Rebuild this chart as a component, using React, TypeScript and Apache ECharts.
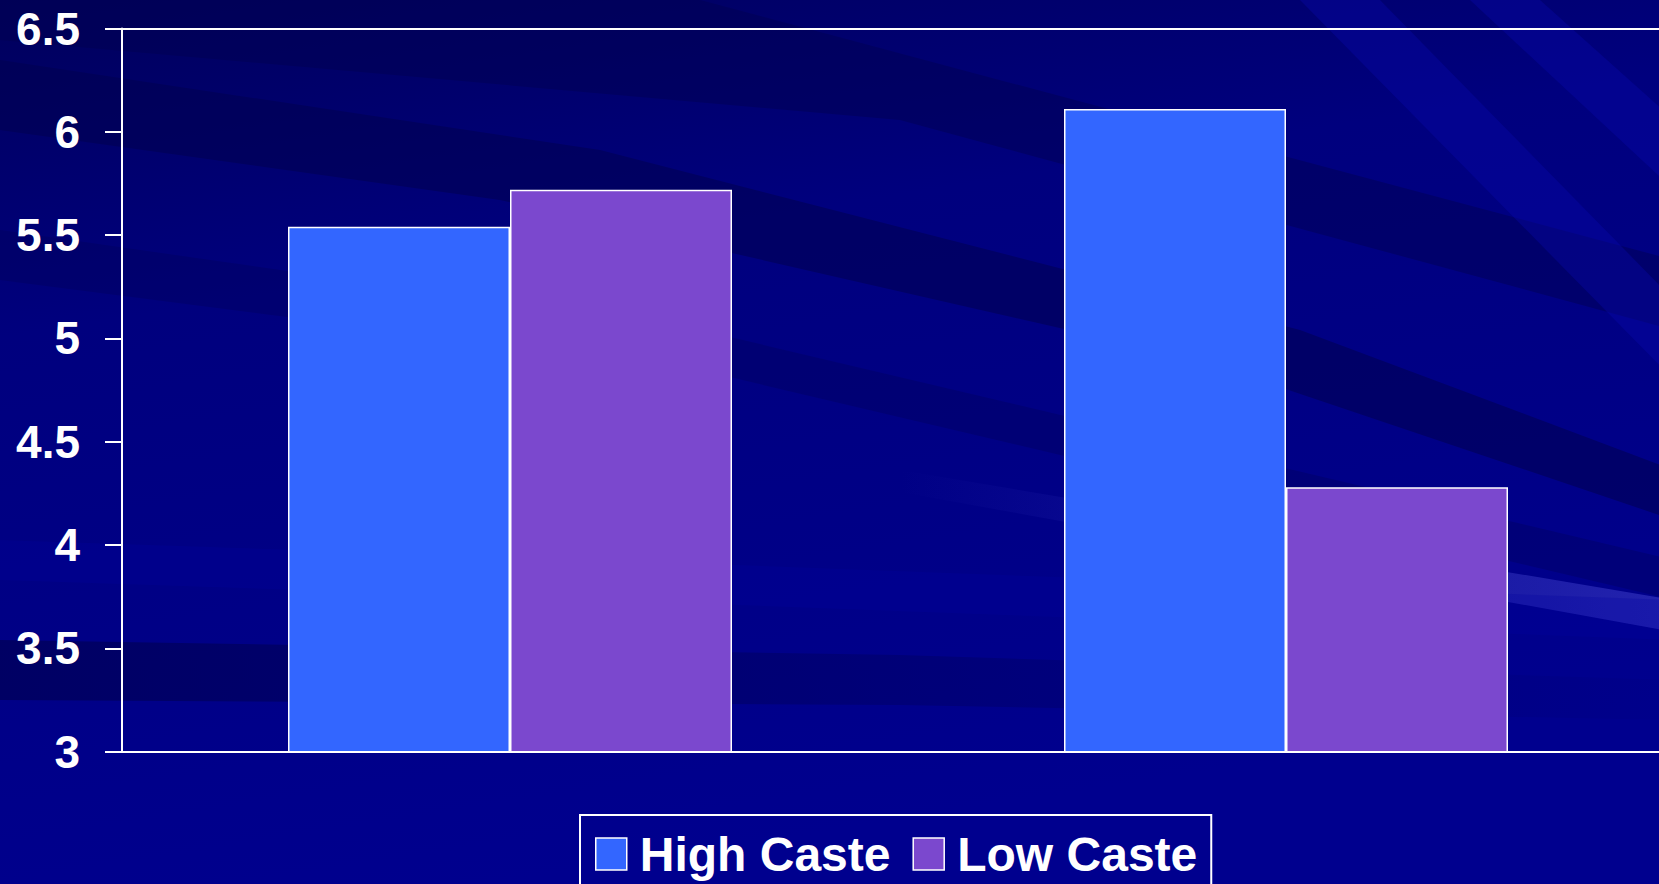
import React, { useEffect, useRef } from "react";
import * as echarts from "echarts";

// Chart data
const categories = ["Group A", "Group B"];
const seriesNames = ["High Caste", "Low Caste"];
const highCaste = [5.54, 6.11];
const lowCaste = [5.72, 4.28];
const yTicks = { min: 3, max: 6.5, interval: 0.5 };

const FONT = '"Liberation Sans", Arial, sans-serif';

// Horizontal fade used to soften the background streaks
const fade = (color: string, from: number, to: number) => ({
  type: "linear",
  x: 0,
  y: 0,
  x2: 1,
  y2: 0,
  colorStops: [
    { offset: 0, color: color.replace("ALPHA", String(from)) },
    { offset: 1, color: color.replace("ALPHA", String(to)) },
  ],
});

export default function App() {
  const ref = useRef<HTMLDivElement>(null);

  useEffect(() => {
    if (!ref.current) return;
    const chart = echarts.init(ref.current, undefined, { renderer: "svg" });

    const streak = (points: number[][], fill: any, opacity = 1) => ({
      type: "polygon",
      silent: true,
      z: -10,
      shape: { points },
      style: { fill, opacity },
    });

    chart.setOption({
      animation: false,
      backgroundColor: {
        type: "linear",
        x: 0,
        y: 0,
        x2: 0.3,
        y2: 1,
        colorStops: [
          { offset: 0, color: "#00005c" },
          { offset: 0.35, color: "#00007e" },
          { offset: 1, color: "#00008e" },
        ],
      },
      graphic: [
        streak([[0, 60], [600, 150], [1300, 330], [1674, 470], [1674, 520], [1200, 360], [500, 200], [0, 130]], "rgba(0,0,80,0.55)"),
        streak([[0, 0], [700, 0], [1674, 260], [1674, 330], [900, 120], [0, 40]], "rgba(0,0,80,0.45)"),
        streak([[0, 230], [700, 330], [1674, 560], [1674, 600], [700, 370], [0, 280]], "rgba(0,0,90,0.35)"),
        streak([[0, 640], [900, 655], [1674, 680], [1674, 720], [900, 705], [0, 700]], fade("rgba(0,0,85,ALPHA)", 0.7, 0.05)),
        streak([[900, 470], [1674, 600], [1674, 632], [900, 492]], fade("rgba(70,70,210,ALPHA)", 0, 0.5)),
        streak([[1300, 0], [1380, 0], [1674, 300], [1674, 380]], "rgba(10,10,176,0.35)"),
        streak([[1470, 0], [1540, 0], [1674, 120], [1674, 190]], "rgba(10,10,176,0.35)"),
        streak([[0, 540], [600, 560], [1674, 600], [1674, 640], [600, 600], [0, 580]], "rgba(0,0,160,0.25)"),
      ],
      grid: { left: 122, top: 28.5, right: 0, bottom: 132.3 },
      legend: {
        data: seriesNames,
        left: 580,
        top: 815,
        orient: "horizontal",
        padding: [15, 14, 20, 15],
        borderColor: "#ffffff",
        borderWidth: 2,
        itemWidth: 31,
        itemHeight: 32,
        itemGap: 22,
        icon: "rect",
        selectedMode: false,
        itemStyle: { borderColor: "#ffffff", borderWidth: 1.5 },
        textStyle: {
          color: "#ffffff",
          fontFamily: FONT,
          fontWeight: "bold",
          fontSize: 48,
          padding: [0, 0, 0, 8],
        },
      },
      xAxis: [
        {
          type: "category",
          data: categories,
          position: "bottom",
          axisLine: { show: true, lineStyle: { color: "#ffffff", width: 2 } },
          axisTick: { show: false },
          axisLabel: { show: false },
          splitLine: { show: false },
        },
        {
          type: "category",
          data: categories,
          position: "top",
          axisLine: { show: true, lineStyle: { color: "#ffffff", width: 2 } },
          axisTick: { show: false },
          axisLabel: { show: false },
          splitLine: { show: false },
        },
      ],
      yAxis: {
        type: "value",
        min: yTicks.min,
        max: yTicks.max,
        interval: yTicks.interval,
        axisLine: { show: true, lineStyle: { color: "#ffffff", width: 2 } },
        axisTick: { show: true, inside: false, length: 17, lineStyle: { color: "#ffffff", width: 2 } },
        axisLabel: {
          color: "#ffffff",
          fontFamily: FONT,
          fontWeight: "bold",
          fontSize: 46,
          margin: 42,
        },
        splitLine: { show: false },
      },
      series: [
        {
          name: seriesNames[0],
          type: "bar",
          data: highCaste,
          barWidth: 222,
          barGap: "0%",
          itemStyle: { color: "#3366ff", borderColor: "#ffffff", borderWidth: 1.5 },
        },
        {
          name: seriesNames[1],
          type: "bar",
          data: lowCaste,
          barWidth: 222,
          barGap: "0%",
          itemStyle: { color: "#7b48ce", borderColor: "#ffffff", borderWidth: 1.5 },
        },
      ],
    });

    return () => chart.dispose();
  }, []);

  return (
    <div
      style={{
        position: "absolute",
        left: 0,
        top: 0,
        width: 1659,
        height: 884,
        overflow: "hidden",
      }}
    >
      <div ref={ref} style={{ width: 1674, height: 884 }} />
    </div>
  );
}
